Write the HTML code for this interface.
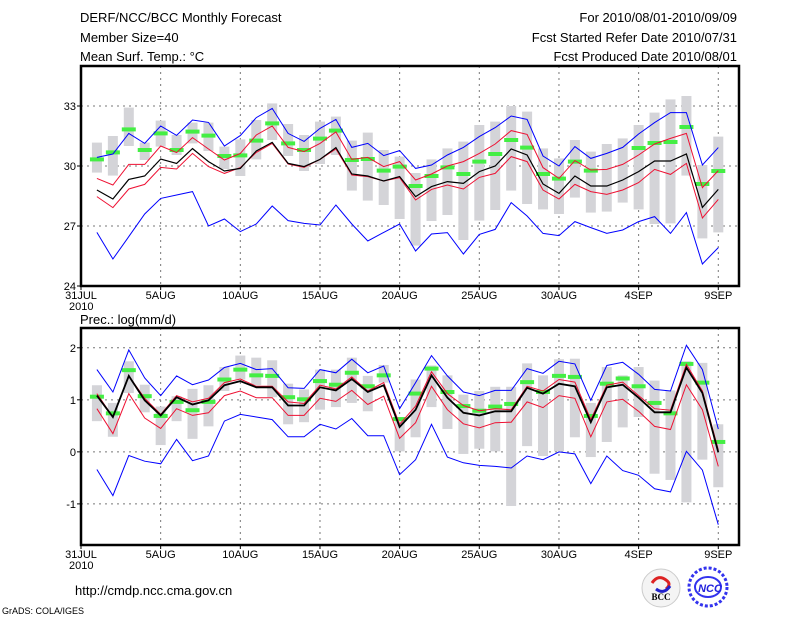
<!DOCTYPE html>
<html><head><meta charset="utf-8"><style>
body{margin:0;background:#fff;}
svg{display:block;font-family:"Liberation Sans",sans-serif;}
</style></head><body>
<svg id="chart" width="800" height="618" viewBox="0 0 800 618" xmlns="http://www.w3.org/2000/svg">
<rect width="800" height="618" fill="#fff"/>
<g font-size="13" fill="#000">
<text x="80" y="22">DERF/NCC/BCC Monthly Forecast</text>
<text x="80" y="42">Member Size=40</text>
<text x="80" y="61">Mean Surf. Temp.: °C</text>
<text x="737" y="22" text-anchor="end">For 2010/08/01-2010/09/09</text>
<text x="737" y="42" text-anchor="end">Fcst Started Refer Date 2010/07/31</text>
<text x="737" y="61" text-anchor="end">Fcst Produced Date 2010/08/01</text>
<text x="80" y="324">Prec.: log(mm/d)</text>
<text x="75" y="595">http://cmdp.ncc.cma.gov.cn</text>
</g>
<text x="2" y="614" font-size="9">GrADS: COLA/IGES</text>
<g id="panels"></g>
<g>
<circle cx="661" cy="588" r="19" fill="#f4f4f4" stroke="#ccc"/>
<path d="M652 583 q6 -9 14 -3 q6 4 0 9" fill="none" stroke="#d22" stroke-width="3"/>
<path d="M670 586 q-6 9 -14 3" fill="none" stroke="#22c" stroke-width="3"/>
<text x="661" y="600" font-size="9" font-weight="bold" text-anchor="middle" font-family="Liberation Serif,serif">BCC</text>
</g>
<g>
<circle cx="708" cy="587" r="19" fill="none" stroke="#33e" stroke-width="3" stroke-dasharray="3 2"/>
<ellipse cx="708" cy="587" rx="13" ry="10" fill="none" stroke="#33e" stroke-width="2"/>
<text x="710" y="592" font-size="11" font-weight="bold" font-style="italic" fill="#22d" text-anchor="middle">NCC</text>
</g>
</svg>
<script>
const dayTicks=[0,5,10,15,20,25,30,35,40];
const tickLabels=["31JUL","5AUG","10AUG","15AUG","20AUG","25AUG","30AUG","4SEP","9SEP"];
const tMaxLine=[30.43,30.6,31.63,31.13,32.0,31.53,32.3,32.18,31.0,31.52,32.42,32.88,31.63,31.23,31.88,32.33,30.93,31.13,30.52,30.77,29.88,30.05,30.55,30.93,31.47,31.92,32.5,32.33,30.5,30.0,30.97,30.38,30.63,30.93,31.6,32.17,32.67,32.67,30.05,30.92];
const tUpperRed=[29.38,29.05,30.08,30.08,31.0,30.67,31.42,30.85,30.3,30.63,31.55,32.0,30.93,30.72,31.13,31.7,30.33,30.43,29.97,30.22,29.3,29.6,30.0,30.22,30.63,31.1,31.77,31.58,29.92,29.38,30.27,29.8,29.83,30.08,30.55,31.1,31.38,31.63,28.92,29.77];
const tMean=[28.8,28.35,29.33,29.5,30.35,30.13,30.87,30.22,29.75,29.88,30.75,31.18,30.13,29.97,30.33,30.92,29.6,29.5,29.25,29.47,28.47,28.97,29.22,29.13,29.72,30.0,30.85,30.55,29.1,28.63,29.5,29.0,29.0,29.3,29.72,30.25,30.25,30.6,27.93,28.83];
const tLowerRed=[28.47,27.92,28.85,29.08,29.93,29.85,30.63,29.97,29.63,29.92,30.68,31.13,30.1,29.93,30.33,30.85,29.55,29.47,29.25,29.42,28.3,28.83,29.05,28.85,29.43,29.63,30.47,30.22,28.8,28.35,29.08,28.72,28.58,28.8,29.17,29.83,29.58,30.13,27.4,28.33];
const tMinLine=[26.68,25.35,26.47,27.6,28.38,28.55,28.72,27.0,27.35,26.72,27.1,28.0,27.27,27.13,27.05,28.05,27.1,26.25,26.68,27.1,25.75,26.6,26.67,25.6,26.58,26.83,28.17,27.5,26.63,26.52,27.22,26.92,26.63,26.8,27.22,27.47,26.63,27.67,25.1,25.92];
const tGreen=[30.33,30.68,31.83,30.8,31.63,30.8,31.72,31.52,30.5,30.53,31.27,32.13,31.13,30.8,31.37,31.77,30.3,30.35,29.77,29.97,29.0,29.5,29.93,29.6,30.22,30.6,31.3,30.92,29.6,29.37,30.22,29.77,null,null,30.9,31.15,31.2,31.95,29.1,29.75];
const tBarHigh=[31.17,31.5,32.92,31.17,32.27,31.55,32.17,32.17,30.97,31.33,32.3,33.13,32.1,31.55,32.22,32.47,31.27,31.67,30.8,30.47,29.65,30.33,30.88,31.22,32.05,32.22,33.0,32.72,30.88,30.38,31.3,30.72,31.1,31.38,32.05,32.67,33.33,33.5,30.05,31.47];
const tBarLow=[29.67,29.52,31.0,30.3,30.97,30.55,31.13,30.75,29.85,29.5,30.33,31.3,30.5,29.75,30.1,30.55,28.77,28.27,28.05,27.35,26.02,27.25,27.55,26.3,27.27,27.8,28.77,28.1,27.83,27.6,28.42,27.67,27.72,28.17,27.83,27.1,27.13,29.52,26.38,26.68];
const pMaxLine=[1.58,1.15,1.96,1.42,1.08,1.46,1.29,1.38,1.62,1.7,1.58,1.6,1.23,1.22,1.58,1.52,1.78,1.52,1.65,0.83,1.33,1.85,1.46,1.15,1.08,1.18,1.18,1.6,1.51,1.74,1.69,0.99,1.66,1.72,1.49,1.2,1.17,2.05,1.58,0.44];
const pUpperRed=[1.12,0.67,1.46,1.03,0.72,1.08,0.96,1.03,1.33,1.4,1.26,1.26,0.96,0.93,1.28,1.21,1.44,1.17,1.33,0.53,0.88,1.54,1.12,0.89,0.79,0.83,0.81,1.26,1.17,1.39,1.34,0.62,1.28,1.34,1.08,0.83,0.8,1.68,1.17,0.04];
const pMean=[1.08,0.67,1.46,0.99,0.7,1.05,0.91,0.99,1.28,1.36,1.24,1.24,0.89,0.89,1.24,1.18,1.4,1.15,1.28,0.48,0.81,1.47,1.04,0.75,0.7,0.78,0.78,1.23,1.12,1.31,1.26,0.57,1.24,1.29,1.04,0.76,0.76,1.62,1.13,-0.01];
const pLowerRed=[0.83,0.35,1.12,0.65,0.45,0.83,0.7,0.75,1.08,1.17,1.04,1.04,0.7,0.7,1.03,0.97,1.18,0.91,1.07,0.26,0.56,1.26,0.81,0.54,0.46,0.56,0.57,0.96,0.85,1.08,1.03,0.29,0.96,1.01,0.78,0.49,0.43,1.29,0.81,-0.28];
const pMinLine=[-0.34,-0.84,-0.07,-0.18,-0.23,0.24,-0.17,-0.08,0.59,0.72,0.67,0.62,0.29,0.29,0.53,0.44,0.64,0.31,0.31,-0.44,-0.15,0.53,-0.1,-0.21,-0.26,-0.28,-0.31,-0.08,-0.15,0.0,-0.04,-0.61,-0.08,-0.36,-0.45,-0.71,-0.77,0.01,-0.35,-1.4];
const pGreen=[1.06,0.74,1.57,1.07,0.69,0.96,0.8,0.96,1.39,1.58,1.47,1.46,1.05,1.01,1.36,1.29,1.52,1.26,1.47,0.63,1.12,1.6,1.15,0.88,0.79,0.87,0.92,1.34,1.15,1.46,1.44,0.69,1.31,1.41,1.26,0.94,0.74,1.69,1.33,0.19];
const pBarHigh=[1.28,0.94,1.74,1.29,0.87,1.07,1.21,1.28,1.63,1.85,1.81,1.76,1.31,1.2,1.58,1.58,1.81,1.46,1.67,0.63,1.39,1.66,1.47,1.1,1.17,1.25,1.25,1.7,1.47,1.78,1.79,0.94,1.63,1.47,1.63,1.37,1.18,1.74,1.71,0.53];
const pBarLow=[0.59,0.29,1.13,0.76,0.13,0.59,0.25,0.49,1.17,1.39,1.28,1.05,0.53,0.57,0.81,0.86,0.94,0.78,1.33,0.01,0.28,0.86,0.44,-0.04,0.06,0.01,-1.04,0.11,-0.08,0.01,0.28,-0.1,0.19,0.47,0.67,-0.42,-0.54,-0.97,-0.15,-0.68];
const tYTicks=[24,27,30,33];
const pYTicks=[-1,0,1,2];

const NS="http://www.w3.org/2000/svg";
const root=document.getElementById('panels');
function mk(tag,attrs,parent){const e=document.createElementNS(NS,tag);for(const k in attrs)e.setAttribute(k,attrs[k]);(parent||root).appendChild(e);return e;}
const X0=81,X1=739;
function xs(d){return X0+(X1-X0)*d/41.3;}
function panel(name,top,bottom,vmin,vmax,yTicks,gridVals,lines,green,bh,bl){
  const ys=v=>bottom-(v-vmin)/(vmax-vmin)*(bottom-top);
  const g=mk('g',{});
  
  
  // grid
  gridVals.forEach(v=>{const l=mk('line',{x1:X0,x2:X1,y1:ys(v),y2:ys(v),stroke:'#777','stroke-dasharray':'2 4'},g);});
  dayTicks.forEach(d=>{if(d===0)return;const l=mk('line',{x1:xs(d),x2:xs(d),y1:top,y2:bottom,stroke:'#777','stroke-dasharray':'2 4'},g);});
  // bars
  bh.forEach((h,i)=>{const x=xs(i+1);const r=mk('rect',{x:x-5,y:ys(h),width:10,height:ys(bl[i])-ys(h),fill:'#d4d4d8'},g);});
  // green marks
  green.forEach((v,i)=>{if(v===null)return;const x=xs(i+1);const r=mk('rect',{x:x-7,y:ys(v)-2,width:14,height:4,fill:'#44ee44'},g);});
  // lines
  lines.forEach(([arr,col,w,nm])=>{const pts=arr.map((v,i)=>xs(i+1).toFixed(1)+','+ys(v).toFixed(1)).join(' ');const p=mk('polyline',{points:pts,fill:'none',stroke:col,'stroke-width':w},g);});
  // frame
  const f=mk('rect',{x:X0,y:top,width:X1-X0,height:bottom-top,fill:'none',stroke:'#000','stroke-width':2.5},g);
  
  yTicks.forEach(v=>{if(ys(v)<top-1||ys(v)>bottom+1)return;mk('line',{x1:X0-4,x2:X0,y1:ys(v),y2:ys(v),stroke:'#000'},g);const t=mk('text',{x:X0-5,y:ys(v)+4,'font-size':11,'text-anchor':'end'},g);t.textContent=v;});
  dayTicks.forEach((d,i)=>{mk('line',{x1:xs(d),x2:xs(d),y1:bottom,y2:bottom+4,stroke:'#000'},g);const t=mk('text',{x:xs(d),y:bottom+13,'font-size':11,'text-anchor':'middle'},g);t.textContent=tickLabels[i];});
  const yr=mk('text',{x:xs(0)-12,y:bottom+24,'font-size':11},g);yr.textContent='2010';
}
panel('temperature',66,286,24,35,tYTicks,[27,30,33],[[tMaxLine,'#0000ff',1,'max-line'],[tMinLine,'#0000ff',1,'min-line'],[tUpperRed,'#ee1133',1,'upper-red-line'],[tLowerRed,'#ee1133',1,'lower-red-line'],[tMean,'#000',1.2,'mean-line']],tGreen,tBarHigh,tBarLow);
panel('precipitation',328,545,-1.79,2.38,pYTicks,[-1,0,1,2],[[pMaxLine,'#0000ff',1,'max-line'],[pMinLine,'#0000ff',1,'min-line'],[pUpperRed,'#ee1133',1,'upper-red-line'],[pLowerRed,'#ee1133',1,'lower-red-line'],[pMean,'#000',1.8,'mean-line']],pGreen,pBarHigh,pBarLow);
</script>
</body></html>
